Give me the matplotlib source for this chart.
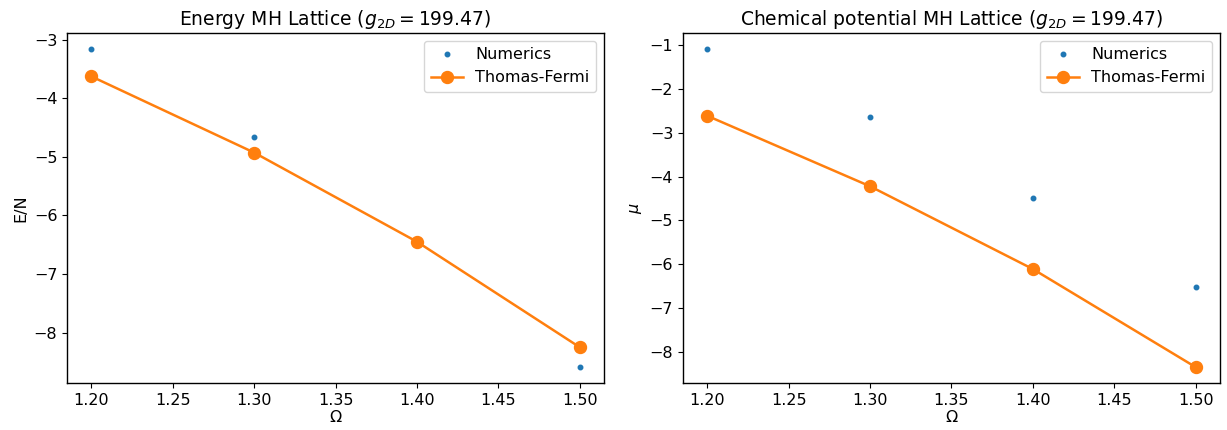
import numpy as np
import matplotlib
matplotlib.use("Agg")
import matplotlib.pyplot as plt

# Rotation frequencies
omega = [1.2, 1.3, 1.4, 1.5]

# Energy per particle
energy_num = [-3.16, -4.66, -6.45, -8.59]
energy_tf = [-3.63, -4.93, -6.45, -8.25]

# Chemical potential
mu_num = [-1.08, -2.64, -4.48, -6.51]
mu_tf = [-2.61, -4.22, -6.11, -8.35]

g2d = 199.47

# reference looks like a slightly upscaled default figure
plt.rcParams['font.size'] = 11.5
plt.rcParams['axes.titlesize'] = 13.5
plt.rcParams['lines.linewidth'] = 1.8
plt.rcParams['axes.linewidth'] = 1.0


def main():
    fig, (ax1, ax2) = plt.subplots(1, 2, figsize=(12.27, 4.3), dpi=100)
    fig.subplots_adjust(left=0.0546, right=0.9943, top=0.9233, bottom=0.1093,
                        wspace=0.147)

    ax1.plot(omega, energy_num, '.', ms=6.5, label='Numerics')
    ax1.plot(omega, energy_tf, 'o-', ms=8.6, label='Thomas-Fermi')
    ax1.set_title(r'Energy MH Lattice ($g_{2D} = %.2f$)' % g2d)
    ax1.set_xlabel(r'$\Omega$', labelpad=1)
    ax1.set_ylabel('E/N')
    ax1.legend(loc='upper right')

    ax2.plot(omega, mu_num, '.', ms=6.5, label='Numerics')
    ax2.plot(omega, mu_tf, 'o-', ms=8.6, label='Thomas-Fermi')
    ax2.set_title(r'Chemical potential MH Lattice ($g_{2D} = %.2f$)' % g2d)
    ax2.set_xlabel(r'$\Omega$', labelpad=1)
    ax2.set_ylabel(r'$\mu$')
    ax2.legend(loc='upper right')

    for ax in (ax1, ax2):
        ax.set_xticks(np.arange(1.2, 1.51, 0.05))
        ax.xaxis.set_major_formatter(plt.FormatStrFormatter('%.2f'))

    fig.savefig('out.png')


main()
